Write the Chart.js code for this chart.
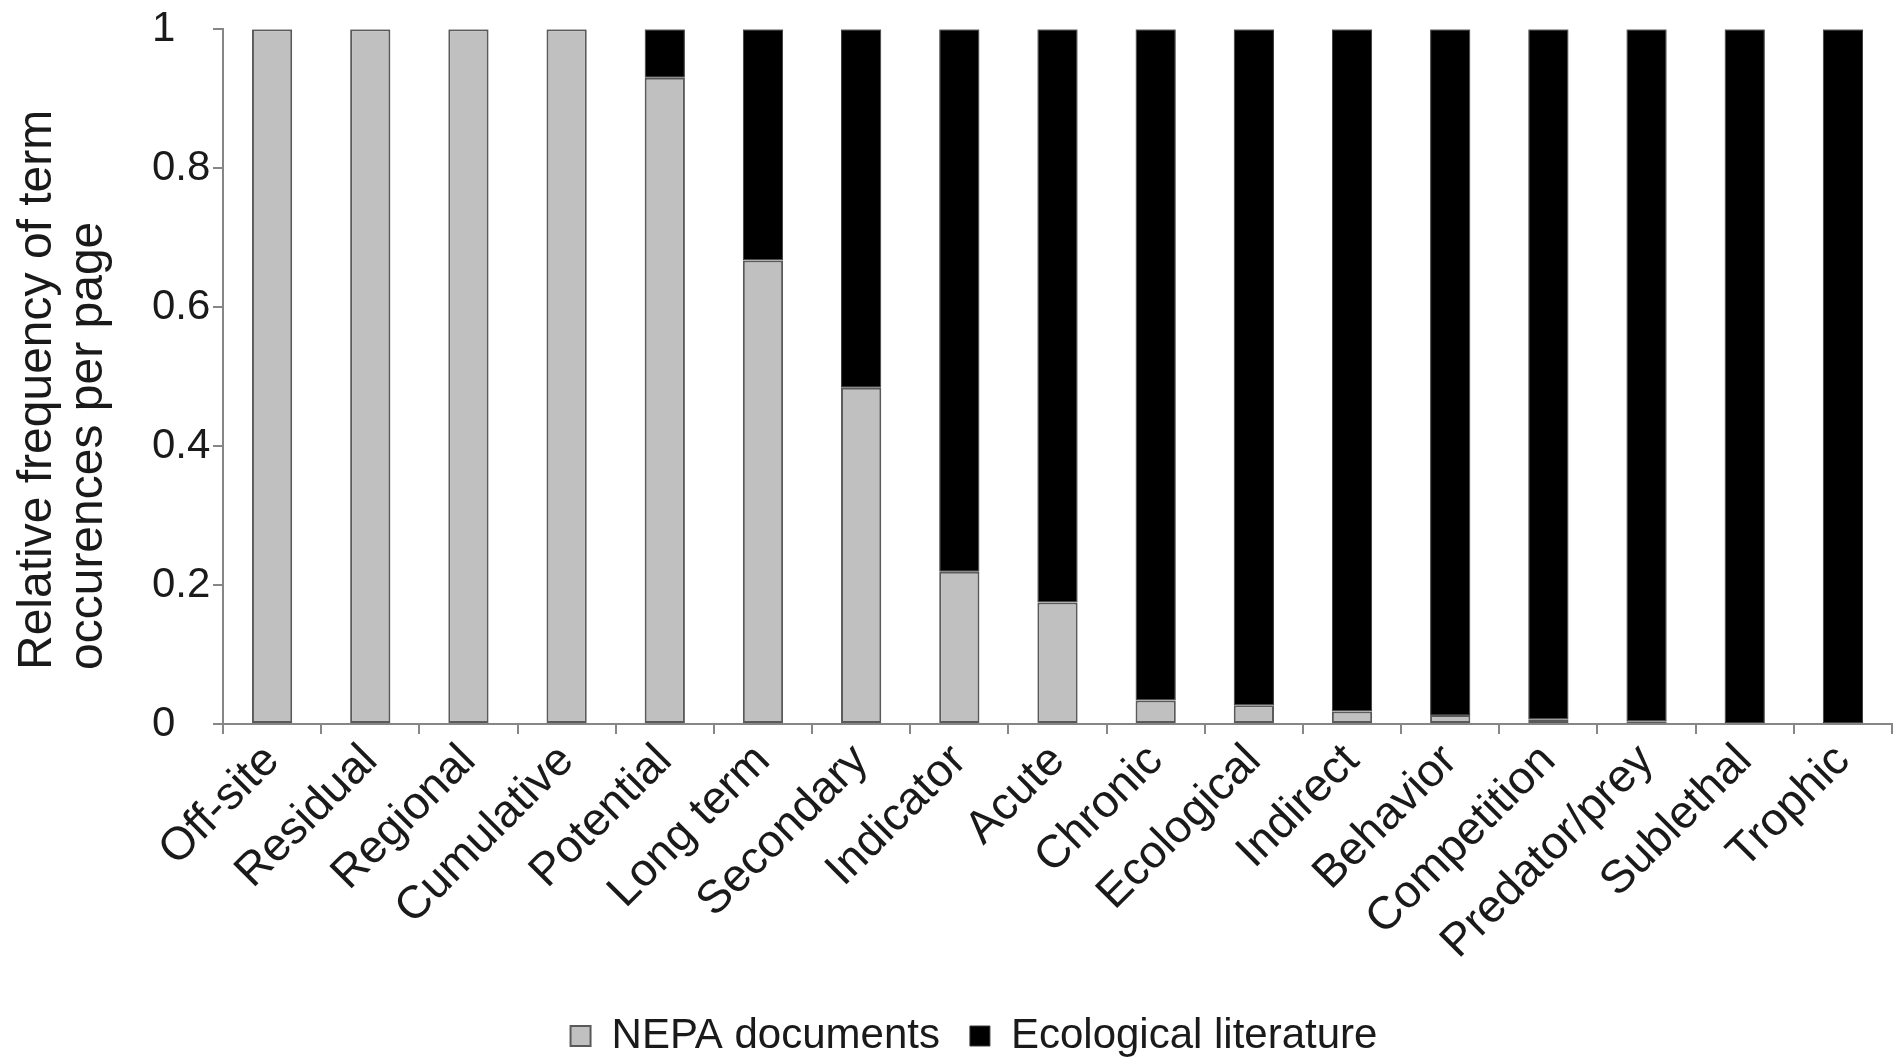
<!DOCTYPE html>
<html>
<head>
<meta charset="utf-8">
<script src="https://cdn.jsdelivr.net/npm/chart.js@4"></script>
<style>
  html, body { margin: 0; padding: 0; background: #ffffff; }
  #wrap { width: 1895px; height: 1060px; }
</style>
</head>
<body>
<div id="wrap"><canvas id="c" width="1895" height="1060"></canvas></div>
<script>
const categories = ['Off-site', 'Residual', 'Regional', 'Cumulative', 'Potential', 'Long term', 'Secondary', 'Indicator', 'Acute', 'Chronic', 'Ecological', 'Indirect', 'Behavior', 'Competition', 'Predator/prey', 'Sublethal', 'Trophic'];
const nepaValues = [1, 1, 1, 1, 0.93, 0.667, 0.484, 0.219, 0.175, 0.034, 0.027, 0.018, 0.013, 0.007, 0.004, 0, 0];
const ecoValues = [0, 0, 0, 0, 0.07, 0.333, 0.516, 0.781, 0.825, 0.966, 0.973, 0.982, 0.987, 0.993, 0.996, 1, 1];
const seriesNames = ['NEPA documents', 'Ecological literature'];
const yTickLabels = ['0', '0.2', '0.4', '0.6', '0.8', '1'];
const yTitleLines = ['Relative frequency of term', 'occurences per page'];

const FONT = 'Liberation Sans, Arial, sans-serif';
const FS = 42;
const TXT = '#1a1a1a';
const AXIS = '#868686';
const LEGEND_H = 75;
const PAD_LEFT = 152;

const legendTweak = {
  id: 'legendTweak',
  afterInit(chart) {
    const lg = chart.legend;
    if (lg) {
      const fit = lg.fit.bind(lg);
      lg.fit = function () { fit(); this.height = LEGEND_H; };
    }
  },
  afterLayout(chart) {
    const lg = chart.legend;
    if (lg) { lg.left -= 48; lg.right -= 48; }
  }
};

// y-axis title drawn as two start-aligned rotated lines (as in the reference)
const yTitle = {
  id: 'yTitle',
  afterDraw(chart) {
    const ctx = chart.ctx;
    const startY = chart.chartArea.bottom - 54;
    ctx.save();
    ctx.font = '48px ' + FONT;
    ctx.fillStyle = TXT;
    ctx.textAlign = 'left';
    ctx.textBaseline = 'middle';
    const xs = [38, 89];
    yTitleLines.forEach((line, i) => {
      ctx.save();
      ctx.translate(xs[i], startY);
      ctx.rotate(-Math.PI / 2);
      ctx.fillText(line, 0, 0);
      ctx.restore();
    });
    ctx.restore();
  }
};

new Chart(document.getElementById('c'), {
  type: 'bar',
  data: {
    labels: categories,
    datasets: [
      { label: seriesNames[0], data: nepaValues, backgroundColor: '#c0c0c0', borderColor: '#5a5a5a', borderWidth: 2, borderSkipped: false, barPercentage: 0.41, categoryPercentage: 1 },
      { label: seriesNames[1], data: ecoValues, backgroundColor: '#000000', borderColor: '#3a3a3a', borderWidth: 1, borderSkipped: false, barPercentage: 0.41, categoryPercentage: 1 }
    ]
  },
  plugins: [legendTweak, yTitle],
  options: {
    responsive: false,
    devicePixelRatio: 1,
    animation: false,
    layout: { padding: { left: PAD_LEFT, right: 3, top: 24, bottom: 0 } },
    plugins: {
      tooltip: { enabled: false },
      legend: {
        position: 'bottom',
        labels: {
          font: { family: FONT, size: FS },
          color: TXT,
          boxWidth: 20,
          boxHeight: 20,
          padding: 30
        }
      }
    },
    scales: {
      x: {
        stacked: true,
        grid: { display: true, offset: true, drawOnChartArea: false, drawTicks: true, tickLength: 10, color: AXIS, lineWidth: 2 },
        border: { display: true, color: AXIS, width: 2 },
        ticks: { font: { family: FONT, size: 46 }, color: TXT, minRotation: 45, maxRotation: 45, autoSkip: false, padding: 0 },
        afterFit: (s) => { s.height = 1060 - 724 - LEGEND_H; }
      },
      y: {
        stacked: true,
        min: 0,
        max: 1,
        grid: { display: true, drawOnChartArea: false, drawTicks: true, tickLength: 10, color: AXIS, lineWidth: 2 },
        border: { display: true, color: AXIS, width: 2 },
        ticks: {
          stepSize: 0.2,
          font: { family: FONT, size: FS },
          color: TXT,
          padding: 4,
          crossAlign: 'far',
          callback: (v) => yTickLabels[Math.round(v * 5)]
        },
        title: { display: false },
        afterFit: (s) => { s.width = 223 - PAD_LEFT; }
      }
    }
  }
});
</script>
</body>
</html>
